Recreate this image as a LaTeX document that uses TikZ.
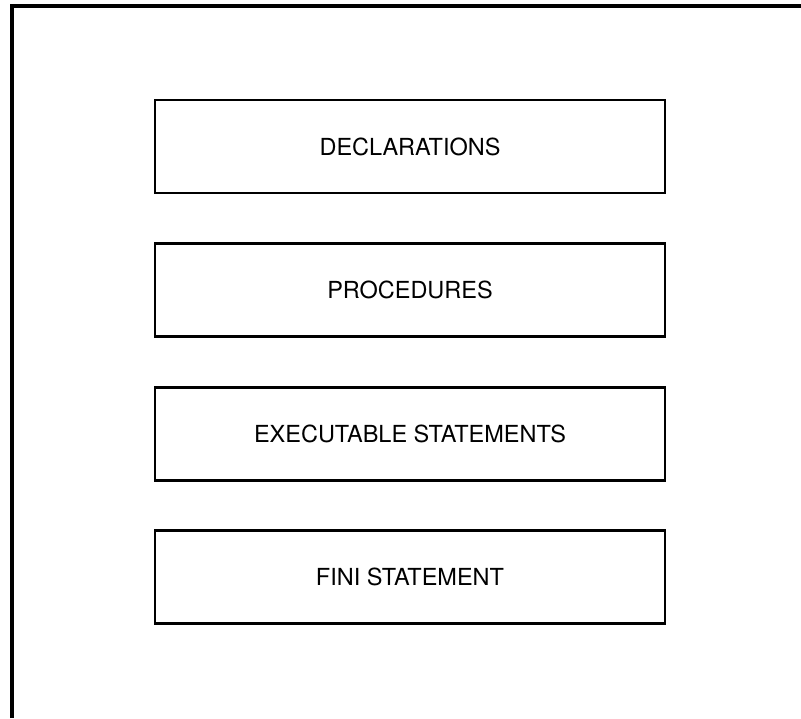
\documentclass[tikz,border=0pt]{standalone}
\usepackage{fontspec}
\setmainfont{TeX Gyre Heros}
\begin{document}
\begin{tikzpicture}[x=1pt,y=-1pt,
  blk/.style={draw=black,line width=2.4pt,minimum width=510pt,minimum height=93pt,inner sep=0pt,
    font=\fontsize{23.5}{26}\selectfont,text=black}]
\useasboundingbox (0,0) rectangle (801,718);
\draw[line width=3.2pt,line cap=butt] (12,718) -- (12,6) -- (801,6);
\node[blk] (decl) at (410,146.5) {DECLARATIONS};
\node[blk] (proc) at (410,290) {PROCEDURES};
\node[blk] (exec) at (410,434) {EXECUTABLE STATEMENTS};
\node[blk] (fini) at (410,577) {FINI STATEMENT};
\end{tikzpicture}
\end{document}
